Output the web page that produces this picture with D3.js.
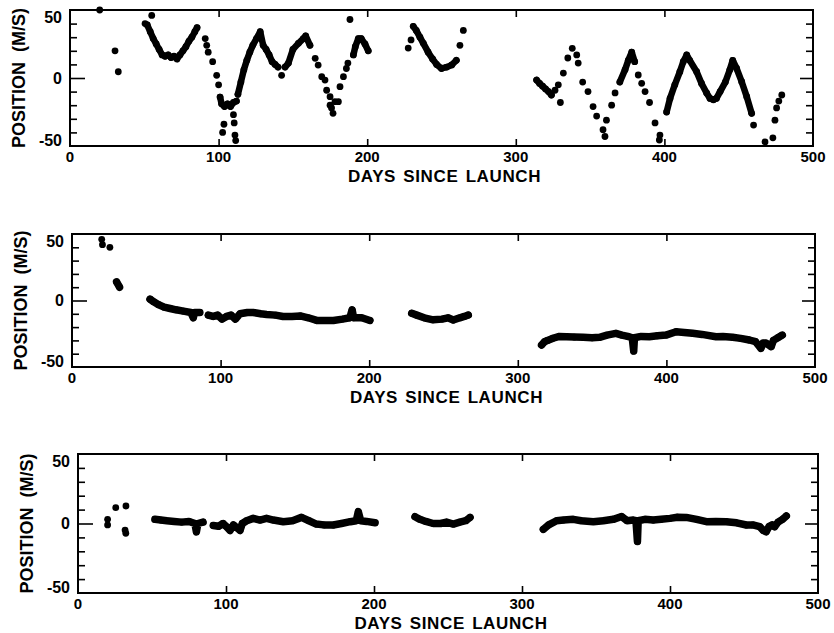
<!DOCTYPE html>
<html>
<head>
<script src="https://cdn.jsdelivr.net/npm/d3@7"></script>
<style>
  body { margin: 0; background: #fff; }
  text { font-family: "Liberation Sans", Arial, sans-serif; font-weight: bold; fill: #000; }
</style>
</head>
<body>
<script>

// tick labels and titles
var xTicks = [0, 100, 200, 300, 400, 500];
var yTicks = [-50, 0, 50];
var xTitle = "DAYS SINCE LAUNCH";
var yTitle = "POSITION  (M/S)";

// panel 1 : raw position, dense runs drawn as thick strokes
var topBands = [
  [[52,39],[54,34],[56,29],[58,25],[60,21],[62,17],[64,16],[66,17],[68,15],[70,16],[72,14],[74,17],[76,20],[78,23],[80,27],[82,30],[84,34],[85.5,37]],
  [[101,-14],[102,-19],[104,-21],[106,-19],[108,-21],[110,-18],[112,-17]],
  [[113,-12],[115,-3],[117,6],[119,13],[121,19],[123,24],[125.5,29],[128,34],[130,24],[132,21],[134,17],[136,12],[138,10],[140,8]],
  [[144.7,8],[147,11],[150,21],[153.7,25.5],[157,29],[158.6,31],[161.5,24]],
  [[190.7,17],[192,23],[194,29],[196,29],[198.5,25],[200.7,20]],
  [[231,38],[233,35],[235.5,30],[237.8,25.5],[241,19],[244,14],[246.7,10],[250,7],[253.5,8],[256.9,9.6],[260,13]],
  [[314,-1.5],[316,-4],[318,-6],[320,-8],[322,-10],[324,-12.5]],
  [[370,-3],[373.5,6],[375.7,13],[378,19],[380,12]],
  [[401.5,-25],[403.8,-15],[407,-5],[410.4,4.6],[412.7,12],[415,17],[417,13],[421.7,4.6],[425,-4],[428.4,-11],[430.7,-15],[433,-16],[435,-15],[437.5,-10],[441,-3],[444,6],[446,13],[448.6,7],[452,-2.7],[455.4,-13.7],[458.7,-26]]
];
var topDots = [
  [20,50],[30.3,20],[32.5,4.6],[50.5,40],[55,46],
  [91,29],[92,24],[93,19],[96,12],[98.7,2],[100,-5],
  [102.7,-40],[103.6,-34],[110,-27],[110.5,-33],[111,-42],[111.5,-46],
  [142.4,2],
  [165,14.5],[167,9.5],[169.4,1],[171.6,-1.5],[172.7,-9],[175,-13.7],[175,-20],[176,-22],[177,-26],[178.3,-17.4],[180.6,-17.4],
  [181.7,-6.4],[184,1],[186,7],[187,11],[188.4,43],
  [227.6,22],[229.5,28],[262.4,24],[264.7,35],
  [326.4,-9],[328.6,-5],[330,-18],[332,3.6],[335,14.7],[338,21.8],[341,17],
  [342,11],[345,-3],[348.6,-10],[352,-21],[354.4,-28],[358.7,-38],[360,-43],
  [361,-31],[364.5,-20],[366.8,-11],
  [382.4,2.2],[384.7,-3.9],[387,-10],[390,-18],[393.7,-33],[397,-42],[396.6,-45.6],
  [460,-34.6],[467.7,-47],[473,-44],[474.4,-31],[475.5,-22],[477,-17],[479,-12.5]
];

// panel 2
var midBands = [
  [[30,14],[31,12],[32,10]],
  [[52.5,1],[55,-1],[58,-3],[62,-5],[66,-6],[70,-7],[75,-8],[80,-9],[81.6,-13],[82.5,-9],[86,-9]],
  [[91.7,-11],[95,-12],[98,-11],[101,-14],[104,-12],[107,-11],[110,-14],[113,-10],[118,-9],[122,-9],[127,-10],[131,-10.5],[137,-11],[142,-12],[148,-12],[153.6,-11.6],[159,-13],[164.7,-15],[170,-15],[175.9,-15],[182,-14],[187,-13],[188.5,-7],[189.5,-13],[195,-13],[200.5,-15]],
  [[228.6,-9.6],[232,-11],[237,-13],[243,-14.5],[249,-14],[253,-13],[256.6,-14.7],[261,-13],[264,-12],[266.7,-10.9]],
  [[316,-33.5],[318,-31],[320,-30],[323.7,-28.4],[328,-27],[332.7,-27.2],[338,-27.5],[344,-27.7],[350,-28],[355,-27.7],[360,-26],[366,-24.7],[370,-26],[374,-27],[377,-28],[378,-38],[378.5,-28],[383,-27],[388.5,-27.2],[394,-26.5],[399.7,-26],[406.5,-23.5],[412,-24],[417.7,-24.7],[424,-25.5],[433.4,-27.2],[438,-27],[444.6,-27.7],[450,-28.5],[455.8,-29.7],[460,-31],[463.6,-36],[465,-32],[467,-32],[470.5,-34.7],[472,-30],[475,-28],[478,-26]]
];
var midDots = [[20,46],[20.5,42],[25.5,40]];

// panel 3
var lowBands = [
  [[52,3],[56,2.5],[60,2],[65,1.5],[70,1],[75,1.5],[79,0],[80,-6],[81,0],[84.5,1]],
  [[91.4,-1.4],[95,-2],[98,0],[100,-2],[102.7,-5],[105,-1],[109.5,-5],[111,0],[114,2],[118.4,3.7],[123,2.5],[127.4,3.7],[132,2.5],[138.7,1.3],[145,2],[151,4.4],[156,2],[161,-0.4],[166,-1],[172.5,-1.1],[178,0],[184,1.3],[188,2],[189.4,8.5],[191,2],[195,1.5],[200.7,0.6]],
  [[227.7,4.9],[231,3],[235,1.5],[240,0],[245,0],[249,1],[253.6,-0.4],[258,1],[262,2],[264.9,4.4]],
  [[314.4,-4.2],[318,-1],[323.4,2],[328,2.5],[334.7,3],[340,2],[348.2,1.3],[355,2],[361.7,3],[367.3,5],[371,2],[375.2,2.5],[377,2],[378,-13],[378.5,2],[383,3],[388.7,2.5],[394,3],[400,3.7],[405,4.5],[411,4.4],[418,3],[424.6,1.3],[431,1.5],[438,1.3],[445,0.5],[451.6,-1.1],[456,-1],[460.6,-2.3],[463,-5],[465,-6],[467,-2],[469,-1],[470.7,-2.3],[473,1],[476,3],[478.6,5.4]]
];
var lowDots = [[20,3],[20,-1],[25.5,11.4],[32.4,12.6],[31.8,-4.7],[32.3,-7]];

var width = 834, height = 633;

var svg = d3.select("body").append("svg")
  .attr("width", width)
  .attr("height", height);

svg.append("rect").attr("width", width).attr("height", height).attr("fill", "white");

function drawPanel(left, right, top, bottom, bands, dots, bandWidth){
  var x = d3.scaleLinear().domain([0, 500]).range([left, right]);
  var y = d3.scaleLinear().domain([-50, 50]).range([bottom, top]);
  var g = svg.append("g");

  // minor ticks, every 10
  var minor = d3.range(-40, 50, 10).filter(function(v){ return v != 0; });
  g.append("g").attr("transform", "translate(" + left + ",0)")
    .call(d3.axisLeft(y).tickValues(minor).tickSize(-7).tickFormat(""));
  g.append("g").attr("transform", "translate(" + right + ",0)")
    .call(d3.axisRight(y).tickValues(minor).tickSize(-7).tickFormat(""));
  g.append("g").attr("transform", "translate(" + left + ",0)")
    .call(d3.axisLeft(y).tickValues([0]).tickSize(-15).tickFormat(""));
  g.append("g").attr("transform", "translate(" + right + ",0)")
    .call(d3.axisRight(y).tickValues([0]).tickSize(-13).tickFormat(""));
  g.append("g").attr("transform", "translate(0," + bottom + ")")
    .call(d3.axisBottom(x).tickValues([100, 200, 300, 400]).tickSize(-7).tickFormat(""));
  g.append("g").attr("transform", "translate(0," + top + ")")
    .call(d3.axisTop(x).tickValues([100, 200, 300, 400]).tickSize(-7).tickFormat(""));
  g.selectAll(".domain").remove();
  g.selectAll(".tick line").attr("stroke", "black").attr("stroke-width", 1.6);

  g.append("rect")
    .attr("x", left).attr("y", top)
    .attr("width", right - left).attr("height", bottom - top)
    .attr("fill", "none").attr("stroke", "black").attr("stroke-width", 2);

  // tick labels
  g.selectAll(".xl").data(xTicks).enter().append("text")
    .attr("x", function(d){ return x(d); })
    .attr("y", bottom + 16)
    .attr("text-anchor", "middle")
    .attr("font-size", "15px")
    .text(function(d){ return d; });

  g.selectAll(".yl").data(yTicks).enter().append("text")
    .attr("x", left - 8)
    .attr("y", function(d){ return y(d) + (d > 0 ? 7 : (d < 0 ? -6 : 0)); })
    .attr("dy", "0.35em")
    .attr("text-anchor", "end")
    .attr("font-size", "16px")
    .text(function(d){ return d; });

  g.append("text")
    .attr("x", (left + right) / 2 + 3)
    .attr("y", bottom + 36)
    .attr("text-anchor", "middle")
    .attr("font-size", "17px")
    .attr("letter-spacing", "0.6px")
    .attr("word-spacing", "2px")
    .text(xTitle);

  g.append("text")
    .attr("transform", "translate(" + (left - 45) + "," + ((top + bottom) / 2) + ") rotate(-90)")
    .attr("text-anchor", "middle")
    .attr("font-size", "18px")
    .style("white-space", "pre")
    .text(yTitle);

  // data
  var line = d3.line().x(function(d){ return x(d[0]); }).y(function(d){ return y(d[1]); });

  g.selectAll(".band").data(bands).enter().append("path")
    .attr("d", line)
    .attr("fill", "none")
    .attr("stroke", "black")
    .attr("stroke-width", bandWidth)
    .attr("stroke-linejoin", "round")
    .attr("stroke-linecap", "round");

  var pts = dots.concat(d3.merge(bands));
  g.selectAll(".dot").data(pts).enter().append("circle")
    .attr("cx", function(d){ return x(d[0]); })
    .attr("cy", function(d){ return y(d[1]); })
    .attr("r", 3.4)
    .attr("fill", "black");
}

drawPanel(70, 813, 10, 146, topBands, topDots, 6.5);
drawPanel(72, 815, 234, 367, midBands, midDots, 7.5);
drawPanel(78, 818, 454, 593, lowBands, lowDots, 7.5);

</script>
</body>
</html>
